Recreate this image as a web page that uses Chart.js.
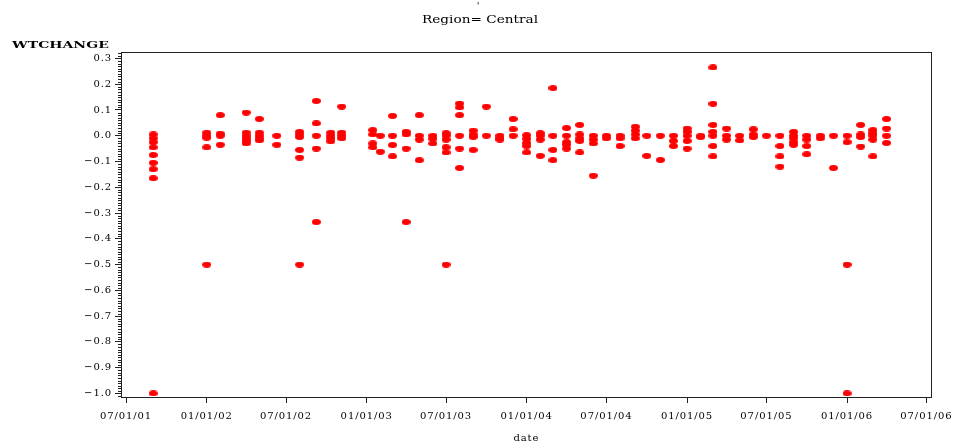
<!DOCTYPE html>
<html>
<head>
<meta charset="utf-8">
<title>WTCHANGE by date</title>
<script src="https://cdn.jsdelivr.net/npm/chart.js@4.4.0/dist/chart.umd.min.js"></script>
<style>
  html, body { margin: 0; padding: 0; background: #fff; }
</style>
</head>
<body>
<canvas id="wtChart" width="956" height="444"></canvas>
<script>
// observation dates (one column of points per date)
const dates = [
  '2001-09-01', '2002-01-01', '2002-02-01', '2002-04-01', '2002-05-01',
  '2002-06-10', '2002-08-01', '2002-09-08', '2002-10-11', '2002-11-05',
  '2003-01-15', '2003-02-01', '2003-03-01', '2003-04-01', '2003-05-01',
  '2003-06-01', '2003-07-01', '2003-08-01', '2003-09-01', '2003-10-01',
  '2003-11-01', '2003-12-01', '2004-01-01', '2004-02-01', '2004-03-01',
  '2004-04-01', '2004-05-01', '2004-06-01', '2004-07-01', '2004-08-01',
  '2004-09-05', '2004-10-01', '2004-11-01', '2004-12-01', '2005-01-01',
  '2005-02-01', '2005-03-01', '2005-04-01', '2005-05-01', '2005-06-01',
  '2005-07-01', '2005-08-01', '2005-09-01', '2005-10-01', '2005-11-01',
  '2005-12-01', '2006-01-01', '2006-02-01', '2006-03-01', '2006-04-01'
];

// WTCHANGE values recorded on each date above
const wtchange = [
  [0.005, -0.01, -0.025, -0.045, -0.075, -0.105, -0.13, -0.165, -1.0],
  [0.012, 0.0, -0.008, -0.045, -0.5],
  [0.08, 0.008, 0.0, -0.035],
  [0.09, 0.012, 0.0, -0.01, -0.02, -0.03],
  [0.065, 0.012, 0.0, -0.01, -0.018],
  [0.0, -0.035],
  [0.015, 0.005, -0.005, -0.055, -0.085, -0.5],
  [0.135, 0.048, 0.0, -0.05, -0.335],
  [0.012, 0.0, -0.01, -0.022],
  [0.113, 0.012, 0.0, -0.01],
  [0.022, 0.005, -0.03, -0.045],
  [0.0, -0.062],
  [0.077, 0.0, -0.036, -0.08],
  [0.015, 0.005, -0.05, -0.335],
  [0.08, 0.0, -0.015, -0.095],
  [0.0, -0.012, -0.03],
  [0.01, 0.0, -0.015, -0.045, -0.065, -0.5],
  [0.125, 0.11, 0.08, 0.0, -0.05, -0.125],
  [0.02, 0.005, -0.005, -0.055],
  [0.113, 0.0],
  [0.0, -0.01, -0.015],
  [0.065, 0.025, 0.0],
  [0.002, -0.012, -0.028, -0.04, -0.065],
  [0.01, 0.0, -0.015, -0.078],
  [0.185, 0.0, -0.055, -0.095],
  [0.03, 0.0, -0.025, -0.035, -0.05],
  [0.042, 0.005, -0.01, -0.02, -0.065],
  [0.0, -0.015, -0.03, -0.155],
  [0.0, -0.01],
  [0.0, -0.01, -0.04],
  [0.035, 0.02, 0.005, -0.01],
  [0.0, -0.078],
  [0.0, -0.094],
  [0.0, -0.02, -0.04],
  [0.028, 0.015, 0.0, -0.02, -0.05],
  [0.0, -0.005],
  [0.265, 0.124, 0.042, 0.015, 0.0, -0.04, -0.08],
  [0.028, 0.0, -0.015],
  [0.0, -0.018],
  [0.025, 0.005, -0.005],
  [0.0],
  [0.0, -0.04, -0.08, -0.12],
  [0.015, 0.0, -0.01, -0.025, -0.035],
  [0.0, -0.015, -0.04, -0.072],
  [0.0, -0.01],
  [0.0, -0.125],
  [0.0, -0.025, -0.5, -1.0],
  [0.042, 0.005, -0.005, -0.042],
  [0.022, 0.01, 0.0, -0.015, -0.08],
  [0.065, 0.028, 0.0, -0.028]
];

const xTickDates = [
  '2001-07-01', '2002-01-01', '2002-07-01', '2003-01-01', '2003-07-01', '2004-01-01',
  '2004-07-01', '2005-01-01', '2005-07-01', '2006-01-01', '2006-07-01'
];
const yTicks = [0.3, 0.2, 0.1, 0.0, -0.1, -0.2, -0.3, -0.4, -0.5, -0.6, -0.7, -0.8, -0.9, -1.0];

const SERIF = '"DejaVu Serif", "Liberation Serif", serif';
const AXIS = '#222';

// dates become day numbers so the x axis stays linear in time
const toDay = s => Date.parse(s + 'T00:00:00Z') / 86400000;
const fmtDate = day => {
  const d = new Date(day * 86400000);
  const p = n => String(n).padStart(2, '0');
  return p(d.getUTCMonth() + 1) + '/' + p(d.getUTCDate()) + '/' + p(d.getUTCFullYear() % 100);
};

const points = dates.flatMap((d, i) => wtchange[i].map(v => ({ x: toDay(d), y: v })));

// flat red ellipse used as the plot symbol
const dot = document.createElement('canvas');
dot.width = 9; dot.height = 6;
{
  const c = dot.getContext('2d');
  c.fillStyle = '#ff0000';
  c.beginPath();
  c.ellipse(4.5, 3, 4.5, 3, 0, 0, Math.PI * 2);
  c.fill();
}

// stretched serif text for the headings
function wideText(ctx, text, x, y, size, stretch, align, weight) {
  ctx.save();
  ctx.font = (weight || 'normal') + ' ' + size + 'px ' + SERIF;
  ctx.fillStyle = '#000';
  ctx.textBaseline = 'middle';
  ctx.letterSpacing = '0px';
  const w = ctx.measureText(text).width * stretch;
  const x0 = align === 'center' ? x - w / 2 : x;
  ctx.translate(x0, y);
  ctx.scale(stretch, 1);
  ctx.textAlign = 'left';
  ctx.fillText(text, 0, 0);
  ctx.restore();
}

const framePlugin = {
  id: 'frame',
  beforeDraw(chart) {
    // wider spacing for the axis labels
    chart.ctx.letterSpacing = '0.9px';
  },
  afterDraw(chart) {
    const { ctx, chartArea: a, scales: { y }, width } = chart;
    ctx.letterSpacing = '0px';
    ctx.save();
    ctx.strokeStyle = AXIS;
    ctx.lineWidth = 1;
    ctx.strokeRect(Math.round(a.left) + 0.5, Math.round(a.top) + 0.5,
      Math.round(a.right - a.left) - 1, Math.round(a.bottom - a.top));
    // minor ticks on the vertical axis every 0.01
    ctx.beginPath();
    for (let k = Math.ceil(y.min * 100); k <= Math.floor(y.max * 100); k++) {
      if (k % 10 === 0) continue;
      const py = Math.round(y.getPixelForValue(k / 100)) + 0.5;
      ctx.moveTo(a.left - 3, py);
      ctx.lineTo(a.left, py);
    }
    ctx.stroke();
    ctx.restore();

    wideText(ctx, "'", width / 2, 6, 10, 1, 'center');
    wideText(ctx, 'Region= Central', width / 2 + 2, 20, 10.5, 1.3, 'center');
    wideText(ctx, 'WTCHANGE', 12, 45, 10, 1.4, 'left', 'bold');
  }
};

new Chart(document.getElementById('wtChart'), {
  type: 'scatter',
  data: {
    datasets: [{
      label: 'WTCHANGE',
      data: points,
      pointStyle: dot,
      pointRadius: 4,
      pointHoverRadius: 4
    }]
  },
  options: {
    responsive: false,
    animation: false,
    layout: { padding: { top: 52, right: 23, left: 0, bottom: 0 } },
    plugins: {
      legend: { display: false },
      tooltip: { enabled: false }
    },
    scales: {
      x: {
        type: 'linear',
        min: toDay(xTickDates[0]) - 11.5,
        max: toDay(xTickDates[xTickDates.length - 1]) + 12,
        afterBuildTicks: scale => { scale.ticks = xTickDates.map(d => ({ value: toDay(d) })); },
        afterFit: scale => { scale.height = 47; },
        grid: { drawOnChartArea: false, tickLength: 6, tickColor: AXIS },
        border: { color: AXIS },
        ticks: {
          color: '#000',
          padding: 7,
          maxRotation: 0,
          autoSkip: false,
          font: { family: SERIF, size: 10 },
          callback: v => fmtDate(v)
        },
        title: {
          display: true,
          text: 'date',
          color: '#000',
          font: { family: SERIF, size: 10 },
          padding: { top: 0, bottom: 0 }
        }
      },
      y: {
        min: -1.014,
        max: 0.325,
        afterBuildTicks: scale => { scale.ticks = yTicks.map(v => ({ value: v })); },
        afterFit: scale => { scale.width = 121; },
        grid: { drawOnChartArea: false, tickLength: 6, tickColor: AXIS },
        border: { color: AXIS },
        ticks: {
          color: '#000',
          padding: 3,
          autoSkip: false,
          font: { family: SERIF, size: 10 },
          callback: v => (v < -0.001 ? '\u2212' + Math.abs(v).toFixed(1) : Math.abs(v).toFixed(1))
        }
      }
    }
  },
  plugins: [framePlugin]
});
</script>
</body>
</html>
